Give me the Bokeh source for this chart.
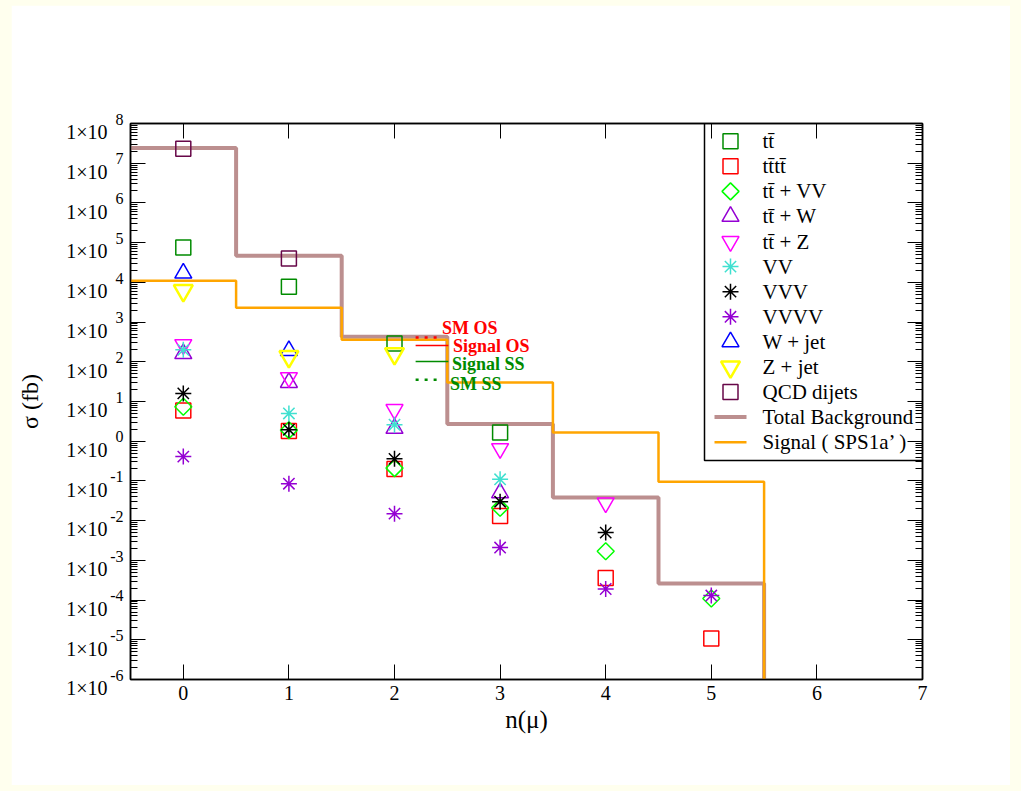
from bokeh.plotting import figure
from bokeh.models import (FixedTicker, LogAxis, LinearAxis, CustomJSTickFormatter,
                          Label, Range1d, LinearScale)
from bokeh.layouts import column
from bokeh.embed import file_html
from bokeh.resources import INLINE
from bokeh.core.properties import value

# ---- cross sections (fb) versus muon multiplicity n(mu) ----
tt_n = [0, 1, 2, 3]
tt_xs = [7.6e4, 7.8e3, 290, 1.65]

tttt_n = [0, 1, 2, 3, 4, 5]
tttt_xs = [5.9, 1.8, 0.2, 0.013, 3.6e-4, 1.07e-5]

ttvv_n = [0, 1, 2, 3, 4, 5]
ttvv_xs = [7.4, 1.9, 0.21, 0.021, 0.0017, 1.1e-4]

ttw_n = [0, 1, 2, 3]
ttw_xs = [160, 30, 2.1, 0.05]

ttz_n = [0, 1, 2, 3, 4]
ttz_xs = [270, 40, 6.3, 0.65, 0.028]

vv_n = [0, 1, 2, 3]
vv_xs = [200, 5.0, 2.6, 0.11]

vvv_n = [0, 1, 2, 3, 4]
vvv_xs = [16, 1.95, 0.36, 0.03, 0.005]

vvvv_n = [0, 1, 2, 3, 4, 5]
vvvv_xs = [0.41, 0.085, 0.015, 0.0021, 1.9e-4, 1.3e-4]

wjet_n = [0, 1]
wjet_xs = [1.7e4, 190]

zjet_n = [0, 1, 2]
zjet_xs = [6.2e3, 135, 160]

qcd_n = [0, 1]
qcd_xs = [2.3e7, 4.0e4]

# histogram bins (one per muon multiplicity)
bins = [0, 1, 2, 3, 4, 5]
total_bkg = [2.4e7, 4.7e4, 430, 2.7, 0.038, 2.6e-4]
signal_sps1a = [1.1e4, 2.3e3, 360, 30, 1.65, 0.095]

x_ticks = [0, 1, 2, 3, 4, 5, 6, 7]
y_decades = list(range(-6, 9))

FLOOR = 1e-12  # closes the histograms below the visible range
SERIF = "Liberation Serif"
FRAME_W, FRAME_H = 792, 556

p = figure(frame_width=FRAME_W, frame_height=FRAME_H,
           x_range=(-0.5, 7), y_range=(1e-6, 1e8), y_axis_type="log",
           output_backend="svg", toolbar_location=None,
           min_border_left=119, min_border_right=88,
           min_border_top=118, min_border_bottom=106,
           background_fill_color="white", border_fill_color="white")
p.grid.visible = False
p.outline_line_color = "black"
p.outline_line_width = 1.5

# pixel coordinate system of the plot frame, used for the key box
p.extra_x_ranges = {"px": Range1d(0, FRAME_W)}
p.extra_y_ranges = {"px": Range1d(0, FRAME_H)}
p.extra_x_scales = {"px": LinearScale()}
p.extra_y_scales = {"px": LinearScale()}

major_y = [10.0 ** k for k in y_decades]
minor_y = [m * 10.0 ** k for k in y_decades[:-1] for m in range(2, 10)]
blank_fmt = CustomJSTickFormatter(code="return '';")
# decade labels are split into the mantissa "1x10" (lower line) and the raised exponent
exp_fmt = CustomJSTickFormatter(code="return String(Math.round(Math.log10(tick))) + '\\n\\u00a0';")
base_fmt = CustomJSTickFormatter(code="return '\\u00a0\\n1×10';")


def style_axis(ax):
    ax.axis_line_color = "black"
    ax.axis_line_width = 1.5
    ax.major_tick_line_color = "black"
    ax.minor_tick_line_color = "black"
    ax.major_tick_in = 15
    ax.major_tick_out = 0
    ax.major_label_text_font = SERIF
    ax.major_label_text_font_size = "20px"
    ax.major_label_text_color = "black"
    ax.axis_label_text_font = SERIF
    ax.axis_label_text_font_style = "normal"
    ax.axis_label_text_font_size = "24px"
    ax.axis_label_text_color = "black"


xa = p.xaxis[0]
style_axis(xa)
xa.ticker = FixedTicker(ticks=x_ticks)
xa.minor_tick_in = 0
xa.minor_tick_out = 0
xa.major_label_standoff = 6
xa.axis_label = "n(μ)"
xa.axis_label_text_font_size = "25px"
xa.axis_label_standoff = 3

ya = p.yaxis[0]
style_axis(ya)
ya.ticker = FixedTicker(ticks=major_y, minor_ticks=minor_y)
ya.formatter = exp_fmt
ya.major_label_text_font_size = "16px"
ya.major_label_text_line_height = 0.5
ya.minor_tick_in = 7
ya.minor_tick_out = 0
ya.major_label_standoff = 7

ya_base = LogAxis(ticker=FixedTicker(ticks=major_y), formatter=base_fmt)
style_axis(ya_base)
ya_base.axis_line_color = None
ya_base.major_tick_line_color = None
ya_base.minor_tick_line_color = None
ya_base.major_tick_in = 0
ya_base.minor_tick_in = 0
ya_base.minor_tick_out = 0
ya_base.major_label_standoff = 0
ya_base.major_label_text_line_height = 0.8
ya_base.axis_label = "σ (fb)"
ya_base.axis_label_standoff = 20
p.add_layout(ya_base, "left")

top = LinearAxis(ticker=FixedTicker(ticks=x_ticks), formatter=blank_fmt)
style_axis(top)
top.minor_tick_in = 0
top.minor_tick_out = 0
top.major_label_standoff = 0
p.add_layout(top, "above")

right = LogAxis(ticker=FixedTicker(ticks=major_y, minor_ticks=minor_y), formatter=blank_fmt)
style_axis(right)
right.minor_tick_in = 7
right.minor_tick_out = 0
right.major_label_standoff = 0
p.add_layout(right, "right")

# ---- histograms: total background and SPS1a' signal ----
edges = [b - 0.5 for b in bins] + [bins[-1] + 0.5]
BKG_STYLE = dict(line_color="#BC8F8F", line_width=4)
SIG_STYLE = dict(line_color="#FFA500", line_width=2.5)
p.step(edges, total_bkg + [FLOOR], mode="after", **BKG_STYLE)
p.step(edges, signal_sps1a + [FLOOR], mode="after", **SIG_STYLE)

# ---- individual background processes ----
LW = 1.5
STYLES = {
    "tt": dict(marker="square", size=15, fill_color=None, line_color="#008B00", line_width=LW),
    "tttt": dict(marker="square", size=15, fill_color=None, line_color="#FF0000", line_width=LW),
    "ttvv": dict(marker="square", size=12, angle=0.785398, fill_color=None,
                 line_color="#00FF00", line_width=LW),
    "ttw": dict(marker="triangle", size=17, fill_color=None, line_color="#9400D3", line_width=LW),
    "ttz": dict(marker="inverted_triangle", size=17, fill_color=None, line_color="#FF00FF",
                line_width=LW),
    "vv": dict(marker="asterisk", size=16, line_color="#40E0D0", line_width=LW),
    "vvv": dict(marker="asterisk", size=16, line_color="black", line_width=LW),
    "vvvv": dict(marker="asterisk", size=16, line_color="#9400D3", line_width=LW),
    "wjet": dict(marker="triangle", size=17, fill_color=None, line_color="#0000FF", line_width=LW),
    "zjet": dict(marker="inverted_triangle", size=19, fill_color=None, line_color="#FFFF00",
                 line_width=2.5),
    "qcd": dict(marker="square", size=15, fill_color=None, line_color="#670748", line_width=LW),
}
SERIES = [
    ("tt", "tt\u0304", tt_n, tt_xs),
    ("tttt", "tt\u0304tt\u0304", tttt_n, tttt_xs),
    ("ttvv", "tt\u0304 + VV", ttvv_n, ttvv_xs),
    ("ttw", "tt\u0304 + W", ttw_n, ttw_xs),
    ("ttz", "tt\u0304 + Z", ttz_n, ttz_xs),
    ("vv", "VV", vv_n, vv_xs),
    ("vvv", "VVV", vvv_n, vvv_xs),
    ("vvvv", "VVVV", vvvv_n, vvvv_xs),
    ("wjet", "W + jet", wjet_n, wjet_xs),
    ("zjet", "Z + jet", zjet_n, zjet_xs),
    ("qcd", "QCD dijets", qcd_n, qcd_xs),
]
for key, _, n, xs in SERIES:
    p.scatter(n, xs, **STYLES[key])

# ---- key box (frame pixel coordinates, origin at lower left) ----
box_left, box_bottom = 574, 219
row0, row_step = FRAME_H - 17.7, 25.08
glyph_x, line_half, text_x = 600, 16, 632
p.quad(left=[box_left], right=[FRAME_W], bottom=[box_bottom], top=[FRAME_H],
       fill_color="white", line_color="black", line_width=1.5,
       x_range_name="px", y_range_name="px")

labels, rows = [], []
for i, (key, label, _, _) in enumerate(SERIES):
    y = row0 - i * row_step
    p.scatter([glyph_x], [y], x_range_name="px", y_range_name="px", **STYLES[key])
    labels.append(label)
    rows.append(y)
for j, (label, style) in enumerate([("Total Background", BKG_STYLE),
                                    ("Signal  ( SPS1a\u2019 )", SIG_STYLE)]):
    y = row0 - (len(SERIES) + j) * row_step
    p.line([glyph_x - line_half, glyph_x + line_half], [y, y],
           x_range_name="px", y_range_name="px", **style)
    labels.append(label)
    rows.append(y)
p.text(x=[text_x] * len(labels), y=rows, text=labels,
       x_range_name="px", y_range_name="px",
       text_font=value(SERIF), text_font_size="21px", text_color="black",
       text_baseline="middle", text_align="left")

# ---- line-style key for the charge combinations ----
key_x0, key_x1, key_x1_long = 2.20, 2.44, 2.51
p.line([key_x0, key_x1], [407, 407], line_color="#FF0000", line_width=2.5, line_dash="3 6")
p.line([key_x0, key_x1_long], [257, 257], line_color="#FF0000", line_width=1.5)
p.line([key_x0, key_x1_long], [101, 101], line_color="#008B00", line_width=1.5)
p.line([key_x0, key_x1], [35.5, 35.5], line_color="#008B00", line_width=2.5, line_dash="3 6")

for txt, tx, ty, col in [("SM OS", 2.45, 725, "#FF0000"),
                         ("Signal OS", 2.554, 257, "#FF0000"),
                         ("Signal SS", 2.545, 90, "#008B00"),
                         ("SM SS", 2.526, 28, "#008B00")]:
    p.add_layout(Label(x=tx, y=ty, text=txt, text_color=col, text_font=SERIF,
                       text_font_style="bold", text_font_size="18px",
                       text_baseline="middle", text_align="left"))

p.margin = (5, 11, 6, 11)
page = column(p, width=1021, height=791, styles={"background-color": "#FFFFEE"})

open("out.html", "w").write(file_html(page, INLINE))
